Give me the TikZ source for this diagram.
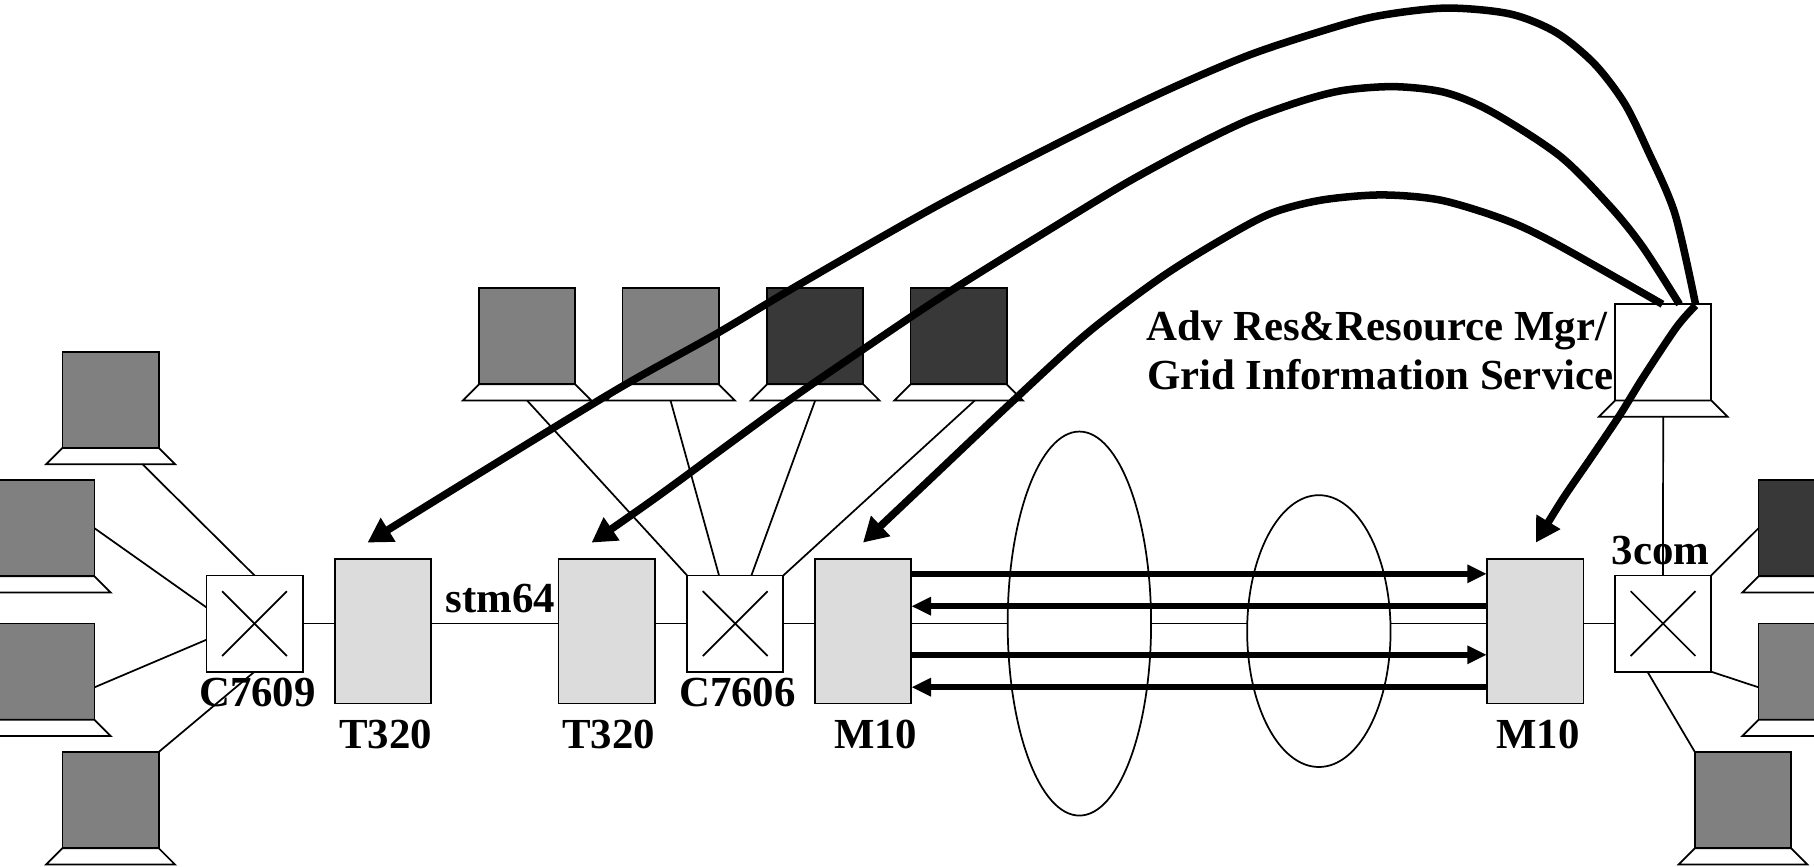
\documentclass[tikz,border=0pt]{standalone}
\usepackage{fontspec}
\setmainfont{Liberation Serif}
\usetikzlibrary{arrows.meta,calc,shapes.geometric}
\definecolor{pcgray}{HTML}{808080}
\definecolor{pcdark}{HTML}{383838}
\definecolor{routergray}{HTML}{DCDCDC}
\tikzset{
  thin line/.style={draw=black,line width=0.03cm},
  screen/.style={thin line,rectangle,minimum width=1.664cm,minimum height=1.664cm,inner sep=0pt,outer sep=0pt},
  switchbox/.style={thin line,fill=white,rectangle,minimum width=1.664cm,minimum height=1.664cm,inner sep=0pt,outer sep=0pt},
  router/.style={thin line,fill=routergray,rectangle,minimum width=1.67cm,minimum height=2.5cm,inner sep=0pt,outer sep=0pt},
  cloud oval/.style={thin line,fill=white,ellipse,inner sep=0pt,outer sep=0pt},
  lbl/.style={anchor=base,inner sep=0pt,outer sep=0pt,font=\fontsize{21.07}{25}\selectfont\bfseries},
  flow/.style={line width=0.1cm,-{Triangle[length=0.34cm,width=0.3cm]}},
  ctrl/.style={line width=0.13cm,line join=round,-{Triangle[length=0.42cm,width=0.46cm]}},
}
\newcommand{\lapt}[4]{% name, left, top, fill
  \node[screen,fill=#4] (#1) at (#2+41.6,#3+41.6) {};
  \draw[thin line,fill=white] (#1.south west) -- ++(-14,14) -- ++(111.2,0) -- ++(-14,-14) -- cycle;
  \coordinate (#1b) at ([yshift=-0.28cm]#1.south);
}
\newcommand{\swcross}[1]{%
  \draw[thin line] ([shift={(-28,-28)}]#1.center) -- ([shift={(28,28)}]#1.center);
  \draw[thin line] ([shift={(-28,28)}]#1.center) -- ([shift={(28,-28)}]#1.center);
}
\begin{document}
\begin{tikzpicture}[x=0.02cm,y=-0.02cm]
\useasboundingbox (0,0) rectangle (1568,749.4);
\clip (0,0) rectangle (1568,749.4);
% left laptops
\lapt{la}{54}{304}{pcgray}
\lapt{lb}{-1.5}{415}{pcgray}
\lapt{lc}{-1.5}{539}{pcgray}
\lapt{ld}{54}{650}{pcgray}
% top laptops
\lapt{ta}{414}{249}{pcgray}
\lapt{tb}{538}{249}{pcgray}
\lapt{tc}{663}{249}{pcdark}
\lapt{td}{787}{249}{pcdark}
% server
\lapt{srv}{1396}{263}{white}
% right laptops
\lapt{ra}{1520}{415}{pcdark}
\lapt{rb}{1520}{539}{pcgray}
\lapt{rc}{1465}{650}{pcgray}
% switches and routers
\node[switchbox] (s1) at (220,539) {};
\node[switchbox] (s2) at (635.5,539) {};
\node[switchbox] (s3) at (1437.5,539) {};
\swcross{s1}\swcross{s2}\swcross{s3}
\node[router] (r1) at (331,545.5) {};
\node[router] (r2) at (524.5,545.5) {};
\node[router] (r3) at (746,545.5) {};
\node[router] (r4) at (1327,545.5) {};
% thin connectors
\draw[thin line] ([xshift=0.55cm]lab) -- (s1.north);
\draw[thin line] (lb.east) -- ([yshift=0.28cm]s1.west);
\draw[thin line] ([yshift=-0.27cm]lc.east) -- ([yshift=-0.28cm]s1.west);
\draw[thin line] (ld.north east) -- (s1.south);
\draw[thin line] (s1.east) -- (r1.west |- s1.east);
\draw[thin line] (r1.east |- s1.east) -- (r2.west |- s1.east);
\draw[thin line] (r2.east |- s2.west) -- (s2.west);
\draw[thin line] (s2.east) -- (r3.west |- s2.east);
\draw[thin line] (tab) -- (s2.north west);
\draw[thin line] (tbb) -- ([xshift=-0.28cm]s2.north);
\draw[thin line] (tcb) -- ([xshift=0.28cm]s2.north);
\draw[thin line] ([xshift=0.28cm]tdb) -- (s2.north east);
\draw[thin line] (srvb) -- (s3.north);
\draw[thin line] (r4.east |- s3.west) -- (s3.west);
\draw[thin line] (s3.north east) -- (ra.west);
\draw[thin line] (s3.south east) -- ([yshift=-0.27cm]rb.west);
\draw[thin line] ([xshift=-0.27cm]s3.south) -- (rc.north west);
% backbone with clouds on top
\draw[thin line] (r3.east |- s2.east) -- (r4.west |- s2.east);
\node[cloud oval,minimum width=2.48cm,minimum height=6.64cm] (c1) at (933,539) {};
\node[cloud oval,minimum width=2.48cm,minimum height=4.7cm] (c2) at (1140,545.5) {};
% link arrows
\coordinate (l1a) at (r3.east |- 0,496);
\coordinate (l1b) at (r4.west |- 0,496);
\coordinate (l2a) at (r3.east |- 0,524);
\coordinate (l2b) at (r4.west |- 0,524);
\coordinate (l3a) at (r3.east |- 0,566);
\coordinate (l3b) at (r4.west |- 0,566);
\coordinate (l4a) at (r3.east |- 0,594);
\coordinate (l4b) at (r4.west |- 0,594);
\draw[flow] (l1a) -- (l1b);
\draw[flow] (l2b) -- (l2a);
\draw[flow] (l3a) -- (l3b);
\draw[flow] (l4b) -- (l4a);
% control curves
\coordinate (st1) at (1465.6,263);
\coordinate (st2) at (1451.7,263);
\coordinate (st3) at (1437,263);
\coordinate (st4) at (1465.6,264);
\coordinate (tip1) at (317.7,469);
\coordinate (tip2) at (511.4,469);
\coordinate (tip3) at (746,469);
\coordinate (tip4) at (1327.6,469);
\draw[ctrl] plot[smooth,tension=0.5] coordinates {(st1) (1447.7,184.5) (1424,129.4) (1404,89) (1378,55) (1345,28) (1305,12) (1249.3,7) (1190,14) (1142,27) (1078.7,48) (1007.3,78.6) (927.9,117) (809.8,178) (690.7,246) (619.3,288.5) (532,337.4) (400,418) (tip1)};
\draw[ctrl] plot[smooth,tension=0.5] coordinates {(st2) (1420,213.5) (1392,178.7) (1348.5,135) (1290,97) (1249.3,80) (1205.7,74.9) (1162,78) (1126,87) (1078.7,104) (1031,127) (975.5,157) (916,193) (817.7,254) (746,302) (675,351) (570,428) (tip2)};
\draw[ctrl] plot[smooth,tension=0.5] coordinates {(st3) (1344.6,210.6) (1300.9,190) (1245.3,173) (1193.8,168.5) (1142,173) (1098.5,184.5) (1054.9,207.7) (1003.3,240) (939.8,288) (873,349) (800,418) (tip3)};
\draw[ctrl] plot[smooth,tension=0.5] coordinates {(st4) (1449,283) (1420.4,326) (1400,359) (1375,396) (1351,431) (tip4)};
% labels
\node[lbl] (t1) at (222.5,611) {C7609};
\node[lbl] (t2) at (333.5,647) {T320};
\node[lbl] (t3) at (432.5,529) {stm64};
\node[lbl] (t4) at (526,647) {T320};
\node[lbl] (t5) at (637.5,611) {C7606};
\node[lbl] (t6) at (757,647) {M10};
\node[lbl] (t7) at (1329.5,647) {M10};
\node[lbl] (t8) at (1435.5,488) {3com};
\node[lbl] (t9) at (1190,294) {Adv Res\&Resource Mgr/};
\node[lbl] (t10) at (1193,337) {Grid Information Service};
\end{tikzpicture}
\end{document}
